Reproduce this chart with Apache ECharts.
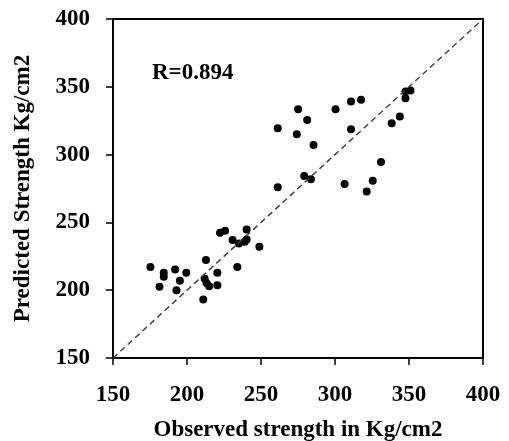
<!DOCTYPE html>
<html>
<head>
<meta charset="utf-8">
<script src="https://cdn.jsdelivr.net/npm/echarts@6/dist/echarts.min.js"></script>
<style>html,body{margin:0;padding:0;background:#fff;}#c{width:509px;height:441px;}</style>
</head>
<body>
<div id="c"></div>
<script>
// Observed strength (x) and predicted strength (y), Kg/cm2
var observed = [175.3,181.4,184.3,184.3,192.0,192.9,195.2,199.5,212.8,211.0,211.9,213.2,215.0,220.5,220.5,222.3,225.7,230.8,234.0,235.1,239.0,240.3,240.3,248.9,261.3,261.3,275.1,281.2,274.2,285.5,279.2,283.7,300.4,310.8,317.6,310.8,306.5,321.4,325.5,331.1,338.3,343.8,347.6,347.6,351.0];
var predicted = [217.2,202.5,212.8,209.9,215.3,200.0,206.9,212.8,222.2,193.1,208.6,205.4,202.9,203.7,212.8,242.4,243.8,237.0,217.2,234.5,235.7,237.4,244.8,232.0,319.5,275.9,333.5,325.6,315.0,307.1,284.2,281.8,333.5,339.2,340.4,318.7,278.4,272.7,280.8,294.6,323.2,328.1,341.6,346.5,347.3];
var lineX = [150, 400];
var lineY = [150, 400];
var tickValues = [150, 200, 250, 300, 350, 400];
var xName = 'Observed strength in Kg/cm2';
var yName = 'Predicted Strength Kg/cm2';
var rText = 'R=0.894';

var font = "'Liberation Serif','Times New Roman',serif";
var pts = observed.map(function(v, i){ return [v, predicted[i]]; });
var linePts = lineX.map(function(v, i){ return [v, lineY[i]]; });

var chart = echarts.init(document.getElementById('c'), null, {renderer:'canvas'});
function axisCommon(name, gap, labelMargin) {
  return {
    type: 'value', min: tickValues[0], max: tickValues[tickValues.length-1], interval: 50,
    name: name, nameLocation: 'middle', nameGap: gap,
    nameTextStyle: {fontFamily: font, fontWeight: 'bold', fontSize: 23, color: '#000'},
    axisLine: {show: true, onZero: false, lineStyle: {color: '#000', width: 2}},
    axisTick: {show: true, inside: false, length: 7, lineStyle: {color: '#000', width: 1.5}},
    axisLabel: {fontFamily: font, fontWeight: 'bold', fontSize: 23, color: '#000', margin: labelMargin},
    splitLine: {show: false}
  };
}
chart.setOption({
  animation: false,
  backgroundColor: '#fff',
  grid: {left: 113, top: 19, width: 370, height: 339, outerBoundsMode: 'none', containLabel: false,
         show: true, borderColor: '#000', borderWidth: 2, backgroundColor: 'transparent'},
  xAxis: axisCommon(xName, 61, 26),
  yAxis: axisCommon(yName, 78, 23),
  graphic: [{
    type: 'text', left: 152, top: 62,
    style: {text: rText, fontFamily: font, fontWeight: 'bold', fontSize: 23, fill: '#000'}
  }],
  series: [
    {type: 'line', data: linePts, symbol: 'none', silent: true,
     lineStyle: {color: '#444', width: 1.5, type: [6, 4]}},
    {type: 'scatter', data: pts, symbol: 'circle', symbolSize: 8,
     itemStyle: {color: '#000', opacity: 1}}
  ]
});
</script>
</body>
</html>
